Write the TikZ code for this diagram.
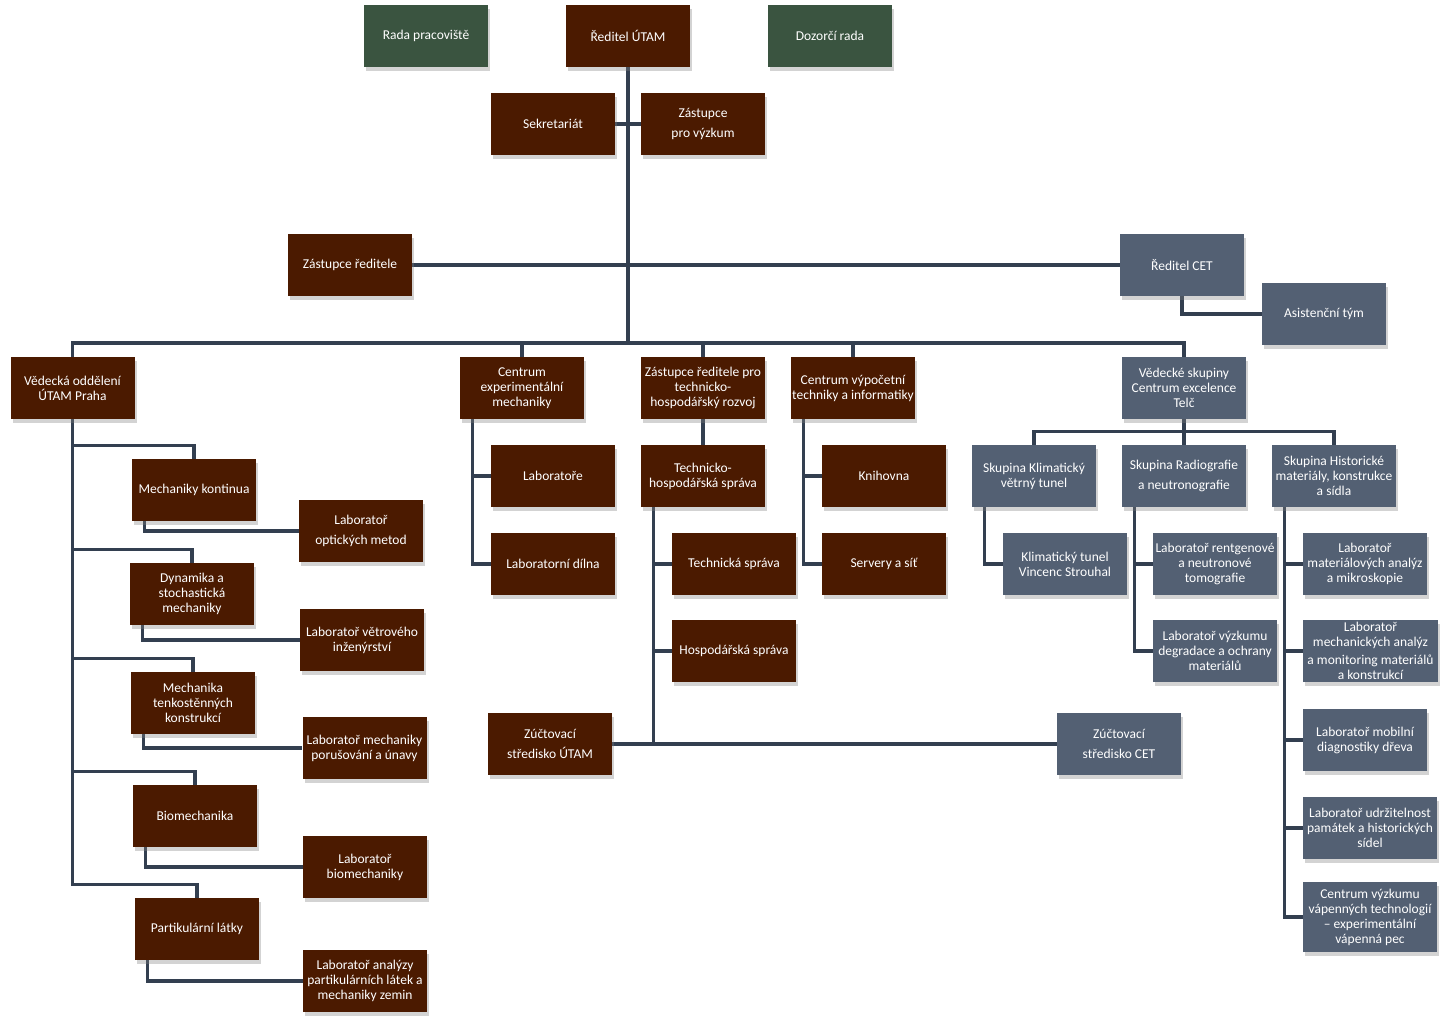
\documentclass[tikz,border=0pt]{standalone}
\usepackage{fontspec}
\setmainfont{Carlito}
\usetikzlibrary{shadows,backgrounds,calc}
\definecolor{utambrown}{HTML}{4B1A00}
\definecolor{radagreen}{HTML}{3A5440}
\definecolor{cetslate}{HTML}{536073}
\definecolor{linkgray}{HTML}{333F50}
\tikzset{
  unit/.style={minimum width=124pt,minimum height=62pt,inner sep=1pt,
    text=white,align=center,font=\fontsize{13.5}{15}\selectfont,
    drop shadow={shadow xshift=2pt,shadow yshift=-4pt,opacity=0.35}},
  brownbox/.style={unit,fill=utambrown},
  greenbox/.style={unit,fill=radagreen},
  slatebox/.style={unit,fill=cetslate},
  conn/.style={draw=linkgray,line width=3.2pt}
}
\begin{document}
\begin{tikzpicture}[x=1pt,y=-1pt]
  \useasboundingbox (0,0) rectangle (1452,1021);
  % top management
  \node[greenbox] (rada) at (426,36) {Rada pracoviště};
  \node[brownbox] (reditel) at (628,36) {Ředitel ÚTAM};
  \node[greenbox] (dozor) at (830,36) {Dozorčí rada};
  \node[brownbox] (sekr) at (553,124) {Sekretariát};
  \node[brownbox] (zvyz) at (703,124) {Zástupce\\[5pt]pro výzkum};
  \node[brownbox] (zred) at (350,265) {Zástupce ředitele};
  \node[slatebox] (rcet) at (1182,265) {Ředitel CET};
  \node[slatebox] (asist) at (1324,314) {Asistenční tým};
  \coordinate (hub) at (628,343);
  % second level
  \node[brownbox] (ved) at (72.5,388) {Vědecká oddělení\\ÚTAM Praha};
  \node[brownbox] (cem) at (522,388) {Centrum\\experimentální\\mechaniky};
  \node[brownbox] (zth) at (703,388) {Zástupce ředitele pro\\technicko-\\hospodářský rozvoj};
  \node[brownbox] (cvt) at (853,388) {Centrum výpočetní\\techniky a informatiky};
  \node[slatebox] (vsk) at (1184,388) {Vědecké skupiny\\Centrum excelence\\Telč};
  % scientific departments Praha
  \node[brownbox] (mk) at (194,490) {Mechaniky kontinua};
  \node[brownbox] (lom) at (361,531) {Laboratoř\\[5pt]optických metod};
  \node[brownbox] (dyn) at (192,594) {Dynamika a\\stochastická\\mechaniky};
  \node[brownbox] (lvi) at (362,640) {Laboratoř větrového\\inženýrství};
  \node[brownbox] (mtk) at (193,703) {Mechanika\\tenkostěnných\\konstrukcí};
  \node[brownbox] (lmp) at (364.5,748) {Laboratoř mechaniky\\porušování a únavy};
  \node[brownbox] (bio) at (195,816) {Biomechanika};
  \node[brownbox] (lbio) at (365,867) {Laboratoř\\biomechaniky};
  \node[brownbox] (par) at (197,929) {Partikulární látky};
  \node[brownbox] (lpl) at (365,981) {Laboratoř analýzy\\partikulárních látek a\\mechaniky zemin};
  % experimental mechanics
  \node[brownbox] (lab) at (553,476) {Laboratoře};
  \node[brownbox] (dil) at (553,564) {Laboratorní dílna};
  % technical and economic development
  \node[brownbox] (ths) at (703,476) {Technicko-\\hospodářská správa};
  \node[brownbox] (tsp) at (734,564) {Technická správa};
  \node[brownbox] (hsp) at (734,651) {Hospodářská správa};
  \node[brownbox] (zut) at (550,744) {Zúčtovací\\[5pt]středisko ÚTAM};
  \node[slatebox] (zcet) at (1119,744) {Zúčtovací\\[5pt]středisko CET};
  % computing centre
  \node[brownbox] (kni) at (884,476) {Knihovna};
  \node[brownbox] (srv) at (884,564) {Servery a síť};
  % research groups Telc
  \node[slatebox] (skt) at (1034,476) {Skupina Klimatický\\větrný tunel};
  \node[slatebox] (srad) at (1184,476) {Skupina Radiografie\\[5pt]a neutronografie};
  \node[slatebox] (shist) at (1334,476) {Skupina Historické\\materiály, konstrukce\\a sídla};
  \node[slatebox] (ktvs) at (1065,564) {Klimatický tunel\\Vincenc Strouhal};
  \node[slatebox] (lrt) at (1215,564) {Laboratoř rentgenové\\a neutronové\\tomografie};
  \node[slatebox] (lvd) at (1215,651) {Laboratoř výzkumu\\degradace a ochrany\\materiálů};
  \node[slatebox] (lma) at (1365,564) {Laboratoř\\materiálových analýz\\a mikroskopie};
  \node[slatebox,minimum width=135pt] (lmech) at (1370.5,651) {Laboratoř\\mechanických analýz\\[3pt]a monitoring materiálů\\a konstrukcí};
  \node[slatebox] (lmob) at (1365,740) {Laboratoř mobilní\\diagnostiky dřeva};
  \node[slatebox,minimum width=134pt] (ludr) at (1370,828) {Laboratoř udržitelnost\\památek a historických\\sídel};
  \node[slatebox,minimum width=134pt,minimum height=70pt] (cvv) at (1370,917) {Centrum výzkumu\\vápenných technologií\\– experimentální\\vápenná pec};
  % connectors
  \begin{scope}[on background layer]
    \draw[conn] (reditel.south) -- (hub);
    \draw[conn] (sekr.east) -- (zvyz.west);
    \draw[conn] (zred.east) -- (rcet.west);
    \draw[conn] (rcet.south) |- (asist.west);
    \draw[conn] (ved.north) |- (hub) -| (vsk.north);
    \foreach \n in {cem,zth,cvt}
      \draw[conn] (\n.north) -- (\n.north |- hub);
    \foreach \d/\l in {mk/lom,dyn/lvi,mtk/lmp,bio/lbio,par/lpl} {
      \draw[conn] (ved.south) |- ($(\d.north)+(0,-13)$) -- (\d.north);
      \draw[conn] ([xshift=13pt]\d.south west) |- (\l.west);
    }
    \foreach \l in {lab,dil}
      \draw[conn] ([xshift=13pt]cem.south west) |- (\l.west);
    \draw[conn] (zth.south) -- (ths.north);
    \foreach \l in {tsp,hsp}
      \draw[conn] ([xshift=13pt]ths.south west) |- (\l.west);
    \draw[conn] ([xshift=13pt]ths.south west) |- (zut.east);
    \draw[conn] (zut.east) -- (zcet.west);
    \foreach \l in {kni,srv}
      \draw[conn] ([xshift=13pt]cvt.south west) |- (\l.west);
    \foreach \g in {skt,shist}
      \draw[conn] (vsk.south) |- ($(\g.north)+(0,-13)$) -- (\g.north);
    \draw[conn] (vsk.south) -- (srad.north);
    \draw[conn] ([xshift=13pt]skt.south west) |- (ktvs.west);
    \foreach \l in {lrt,lvd}
      \draw[conn] ([xshift=13pt]srad.south west) |- (\l.west);
    \foreach \l in {lma,lmech,lmob,ludr,cvv}
      \draw[conn] ([xshift=13pt]shist.south west) |- (\l.west);
  \end{scope}
\end{tikzpicture}
\end{document}
